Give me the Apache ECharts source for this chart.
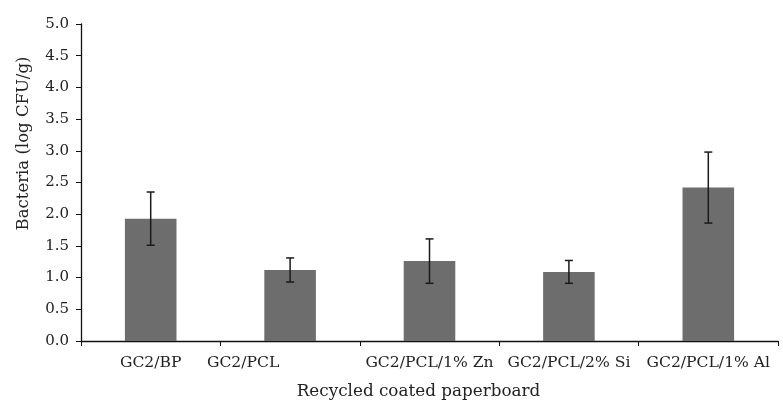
<!DOCTYPE html>
<html>
<head>
<meta charset="utf-8">
<script src="https://cdn.jsdelivr.net/npm/echarts@6/dist/echarts.min.js"></script>
<style>html,body{margin:0;padding:0;background:#fff;}#c{width:783px;height:401px;}</style>
</head>
<body>
<div id="c"></div>
<script>
const categories = ['GC2/BP', 'GC2/PCL', 'GC2/PCL/1% Zn', 'GC2/PCL/2% Si', 'GC2/PCL/1% Al'];
const means = [1.93, 1.12, 1.26, 1.09, 2.42];
const errors = [0.42, 0.19, 0.35, 0.18, 0.56];
const yTicks = { min: 0, max: 5, interval: 0.5 };

const FONT = 'DejaVu Serif';
const chart = echarts.init(document.getElementById('c'), null, { renderer: 'canvas' });

chart.setOption({
  animation: false,
  backgroundColor: '#ffffff',
  grid: { left: 81, right: 5, top: 24, bottom: 60, containLabel: false, outerBoundsMode: 'none' },
  xAxis: {
    type: 'category',
    data: categories,
    boundaryGap: true,
    name: 'Recycled coated paperboard',
    nameLocation: 'middle',
    nameGap: 42,
    nameTextStyle: { fontFamily: FONT, fontSize: 16.8, color: '#222', padding: [0, 22, 0, 0] },
    axisLine: { lineStyle: { color: '#111', width: 1.3 } },
    axisTick: { show: true, length: 5, lineStyle: { color: '#111' } },
    axisLabel: {
      fontFamily: FONT, fontSize: 15.6, color: '#222', margin: 14, interval: 0,
      formatter: (v, i) => i === 1 ? '{shift|' + v + '}' : v,
      rich: { shift: { fontFamily: FONT, fontSize: 15.6, color: '#222', padding: [0, 94, 0, 0] } }
    },
    splitLine: { show: false }
  },
  yAxis: {
    type: 'value',
    min: yTicks.min, max: yTicks.max, interval: yTicks.interval,
    name: 'Bacteria (log CFU/g)',
    nameLocation: 'middle',
    nameGap: 49,
    nameTextStyle: { fontFamily: FONT, fontSize: 16.5, color: '#222', padding: [0, 0, 0, 78] },
    axisLine: { show: true, lineStyle: { color: '#111', width: 1.3 } },
    axisTick: { show: true, length: 5, lineStyle: { color: '#111' } },
    axisLabel: { fontFamily: FONT, fontSize: 15, color: '#222', margin: 12, formatter: v => v.toFixed(1) },
    splitLine: { show: false }
  },
  series: [
    {
      type: 'bar',
      data: means,
      barWidth: '37%',
      itemStyle: { color: '#6d6d6d' },
      z: 2
    },
    {
      type: 'custom',
      data: means.map((m, i) => [i, m, errors[i]]),
      encode: { x: 0, y: 1 },
      z: 5,
      renderItem: function (params, api) {
        const x = api.value(0), m = api.value(1), e = api.value(2);
        const top = api.coord([x, m + e]);
        const bot = api.coord([x, m - e]);
        const hw = 4;
        const style = { stroke: '#1a1a1a', lineWidth: 1.5 };
        return {
          type: 'group',
          children: [
            { type: 'line', shape: { x1: top[0], y1: top[1], x2: bot[0], y2: bot[1] }, style: style },
            { type: 'line', shape: { x1: top[0] - hw, y1: top[1], x2: top[0] + hw, y2: top[1] }, style: style },
            { type: 'line', shape: { x1: bot[0] - hw, y1: bot[1], x2: bot[0] + hw, y2: bot[1] }, style: style }
          ]
        };
      }
    }
  ]
});
</script>
</body>
</html>
